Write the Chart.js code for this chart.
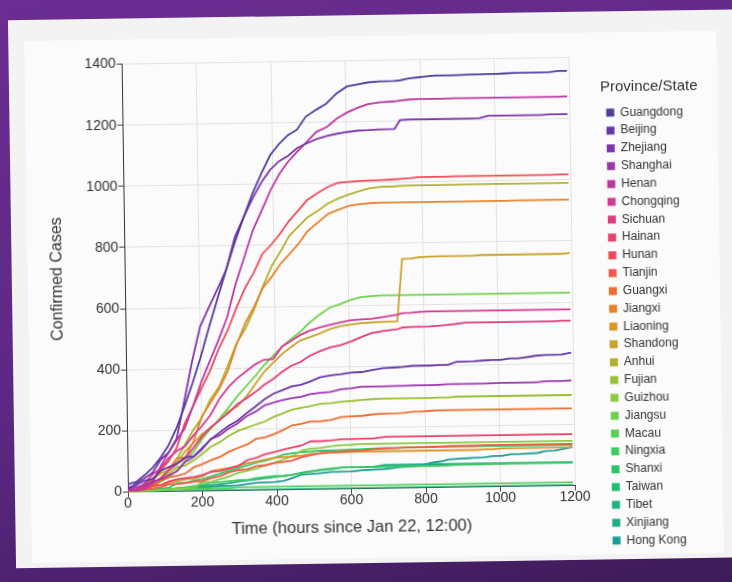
<!DOCTYPE html>
<html>
<head>
<meta charset="utf-8">
<script src="https://cdn.jsdelivr.net/npm/chart.js@4.4.1/dist/chart.umd.min.js"></script>
<style>
  html, body { margin: 0; padding: 0; width: 732px; height: 582px; overflow: hidden; }
  body { background: linear-gradient(165deg, #6b2d90 0%, #5c2784 55%, #3d1b58 100%); position: relative; }
  #slide { position: absolute; left: 0; top: 0; width: 732px; height: 582px;
           transform: rotate(-0.85deg); transform-origin: 366px 291px; }
  #card { position: absolute; left: 12px; top: 15px; width: 760px; height: 548px; background: #f3f3f4; }
  #panel { position: absolute; left: 28px; top: 36px; width: 692px; height: 522px; background: #fbfbfb; }
  #chart { position: absolute; left: 0; top: 0; }
</style>
</head>
<body>
<div id="slide">
  <div id="card"></div>
  <div id="panel"></div>
  <canvas id="chart" width="732" height="582"></canvas>
</div>
<script>
// Hours since Jan 22, 12:00 of each report
const hours = [0, 22, 44, 67, 89, 111, 133, 155, 178, 200,
  224, 249, 273, 297, 322, 346, 370, 395, 419, 443,
  468, 492, 520, 548, 576, 604, 632, 660, 690, 730,
  745, 769, 792, 816, 840, 863, 887, 911, 934, 958,
  982, 1005, 1029, 1053, 1076, 1100, 1124, 1147, 1171, 1195];

const provinces = ['Guangdong', 'Beijing', 'Zhejiang', 'Shanghai', 'Henan', 'Chongqing', 'Sichuan',
  'Hainan', 'Hunan', 'Tianjin', 'Guangxi', 'Jiangxi', 'Liaoning', 'Shandong', 'Anhui', 'Fujian',
  'Guizhou', 'Jiangsu', 'Macau', 'Ningxia', 'Shanxi', 'Taiwan', 'Tibet', 'Xinjiang', 'Hong Kong'];

const colors = ['#523c9c', '#6638a6', '#7f33ad', '#9c37ae', '#bb36a2', '#d33a92', '#e23c7e',
  '#eb426a', '#f04c58', '#f25b45', '#ef6d30', '#e8822a', '#dc9428', '#c8a42a', '#b0b22c', '#9bc032',
  '#8cca42', '#70d14e', '#55d05a', '#3ecc62', '#2ec56b', '#25bd74', '#20b47d', '#1eaa87', '#1e9c97'];

// Cumulative confirmed cases, one value per report in `hours`
const guangdong = [26,32,53,78,111,151,207,277,354,436,
  535,632,725,813,895,970,1034,1095,1131,1159,1177,1219,1241,1261,1294,1316,1322,1328,1331,1332,1333,1339,1342,1345,1347,1347,1347,1348,1349,
  1349,1350,1350,1351,1352,1352,1352,1352,1353,1356,1356];
const beijing = [14,22,36,41,68,80,91,111,114,139,
  168,191,212,228,253,274,297,315,326,337,342,352,366,372,375,380,381,387,393,395,396,399,399,399,400,400,410,410,411,
  413,414,414,418,418,422,426,428,428,429,435];
const zhejiang = [10,27,43,62,104,128,173,296,428,537,
  599,661,724,829,895,954,1006,1048,1075,1092,1117,1131,1145,1155,1162,1167,1171,1172,1174,1175,1203,1205,1205,1205,1205,1205,1205,1205,1205,
  1206,1213,1213,1213,1213,1213,1213,1213,1215,1215,1215];
const shanghai = [9,16,20,33,40,53,66,96,112,135,
  169,182,203,219,243,257,277,286,293,299,303,311,315,318,326,328,333,333,333,334,334,335,335,335,336,337,337,337,337,
  337,338,339,339,339,339,339,342,342,342,344];
const henan = [5,5,9,32,83,128,168,206,278,352,
  422,493,566,675,764,851,914,981,1033,1073,1105,1135,1169,1184,1212,1231,1246,1257,1262,1265,1267,1270,1271,1271,1271,1271,1272,1272,1272,
  1272,1272,1272,1272,1272,1272,1272,1272,1272,1272,1273];
const chongqing = [5,9,27,57,75,110,132,147,182,211,
  247,300,337,366,389,411,426,428,468,486,505,518,529,537,544,551,553,555,560,567,572,573,575,576,576,576,576,576,576,
  576,576,576,576,576,576,576,576,576,576,576];
const sichuan = [5,8,15,28,44,69,90,108,142,177,
  207,231,254,282,301,321,344,363,386,405,417,436,451,463,470,481,495,508,514,520,525,526,526,527,529,531,534,538,538,
  538,538,538,538,538,538,538,538,538,539,539];
const hainan = [4,5,8,19,22,33,40,43,46,52,
  62,64,72,80,99,106,117,124,131,138,144,157,157,159,162,162,163,163,168,168,168,168,168,168,168,168,168,168,168,
  168,168,168,168,168,168,168,168,168,168,168];
const hunan = [4,9,24,43,69,100,143,221,277,332,
  389,463,521,593,661,711,772,803,838,879,912,946,968,988,1001,1004,1006,1007,1008,1010,1011,1013,1016,1016,1016,1016,1017,1017,1017,
  1017,1017,1017,1017,1017,1017,1017,1017,1017,1018,1018];
const tianjin = [4,4,8,10,14,23,24,27,31,32,
  41,48,60,67,69,79,81,88,91,95,106,112,119,120,122,124,125,128,130,131,133,133,133,134,134,135,135,135,135,
  136,136,136,136,136,136,136,136,136,136,136];
const guangxi = [2,5,23,23,36,46,51,58,78,87,
  100,111,127,139,150,168,172,183,195,210,215,222,222,226,235,237,238,242,244,245,246,249,249,251,252,252,252,252,252,
  252,252,252,252,252,252,252,252,252,252,252];
const jiangxi = [2,7,18,18,36,72,109,109,162,240,
  286,333,391,476,548,600,661,698,740,771,804,844,872,900,913,925,930,933,934,934,934,934,934,934,934,934,934,934,934,
  934,934,934,934,935,935,935,935,935,935,935];
const liaoning = [2,3,4,17,21,27,34,39,41,48,
  64,70,74,81,89,94,99,105,107,108,111,116,117,119,119,121,121,121,121,121,121,121,121,121,121,121,121,121,121,
  122,122,125,125,125,125,125,125,125,125,125];
const shandong = [2,6,15,27,46,75,95,130,158,184,
  206,230,259,275,307,347,386,416,444,466,487,497,509,523,532,537,541,543,544,546,749,750,754,755,756,756,756,756,756,
  758,758,758,758,758,758,758,758,758,758,760];
const anhui = [1,9,15,39,60,70,106,152,200,237,
  297,340,408,480,530,591,665,733,779,830,860,889,910,934,950,962,973,982,986,987,988,989,989,989,989,989,989,990,990,
  990,990,990,990,990,990,990,990,990,990,990];
const fujian = [1,5,10,18,35,59,80,84,101,120,
  144,159,179,194,205,215,224,239,250,261,267,272,279,281,285,287,290,292,293,293,293,293,293,293,294,294,296,296,296,
  296,296,296,296,296,296,296,296,296,296,296];
const guizhou = [1,3,3,4,5,7,9,9,12,29,
  29,38,46,58,64,71,81,89,99,109,127,133,135,140,143,144,146,146,146,146,146,146,146,146,146,146,146,146,146,
  146,146,146,146,146,146,146,146,146,146,146];
const jiangsu = [1,5,9,18,33,47,70,99,129,168,
  202,236,271,308,341,373,408,439,468,492,515,543,570,593,604,617,626,629,631,631,631,631,631,631,631,631,631,631,631,
  631,631,631,631,631,631,631,631,631,631,631];
const macau = [1,2,2,2,5,6,7,7,7,7,
  7,8,8,10,10,10,10,10,10,10,10,10,10,10,10,10,10,10,10,10,10,10,10,10,10,10,10,10,10,
  10,10,10,10,10,10,10,10,10,10,10];
const ningxia = [1,1,2,3,4,7,11,12,17,21,
  26,28,31,34,34,40,43,45,45,49,53,58,64,67,70,70,70,70,71,71,71,71,71,71,71,72,73,73,73,
  73,74,74,75,75,75,75,75,75,75,75];
const shanxi = [1,1,1,6,9,13,27,27,35,39,
  47,56,66,74,81,90,96,104,115,119,122,124,126,126,127,128,129,130,131,131,132,132,132,132,133,133,133,133,133,
  133,133,133,133,133,133,133,133,133,133,133];
const taiwan = [1,1,3,3,4,5,8,8,9,10, 10];
const tibet = [0,0,0,0,0,0,0,1,1,1,
  1,1,1,1,1,1,1,1,1,1,1,1,1,1,1,1,1,1,1,1,1,1,1,1,1,1,1,1,1,
  1,1,1,1,1,1,1,1,1,1,1];
const xinjiang = [0,2,2,3,4,5,10,13,14,17,
  18,21,24,29,32,36,39,42,45,49,55,59,63,65,70,71,71,71,76,76,76,76,76,76,76,76,76,76,76,
  76,76,76,76,76,76,76,76,76,76,76];
const hongKong = [0,2,2,5,8,8,8,10,10,12,
  13,15,15,17,21,24,25,26,29,38,49,50,53,56,56,57,60,62,63,68,69,70,74,81,85,91,93,94,95,
  96,100,100,105,105,107,108,114,115,120,126];

const seriesValues = [guangdong, beijing, zhejiang, shanghai, henan, chongqing, sichuan, hainan, hunan,
  tianjin, guangxi, jiangxi, liaoning, shandong, anhui, fujian, guizhou, jiangsu, macau, ningxia,
  shanxi, taiwan, tibet, xinjiang, hongKong];

const xTicks = [0, 200, 400, 600, 800, 1000, 1200];
const yTicks = [0, 200, 400, 600, 800, 1000, 1200, 1400];

const FONT = "'Liberation Sans', Arial, Helvetica, sans-serif";
const TEXT = '#333333';
const PLOT_RIGHT = 572;
const LEGEND_WIDTH = 123;

const datasets = provinces.map((name, i) => ({
  label: name,
  data: seriesValues[i].map((v, k) => ({ x: hours[k], y: v })),
  borderColor: colors[i],
  backgroundColor: colors[i],
  borderWidth: 1.8,
  pointRadius: 0,
  pointHoverRadius: 0,
  tension: 0,
  fill: false
}));

const plainNumber = v => String(v);

const chart = new Chart(document.getElementById('chart'), {
  type: 'line',
  data: { datasets },
  options: {
    responsive: false,
    animation: false,
    devicePixelRatio: 1,
    layout: { padding: { left: 40, top: 60.5, bottom: 10, right: 6 } },
    plugins: {
      tooltip: { enabled: false },
      legend: {
        position: 'right',
        align: 'start',
        title: {
          display: true,
          text: 'Province/State',
          position: 'start',
          color: TEXT,
          font: { family: FONT, size: 15 },
          padding: { top: 22.5, bottom: 3.5 }
        },
        labels: {
          boxWidth: 8,
          boxHeight: 8,
          padding: 5.83,
          color: TEXT,
          font: { family: FONT, size: 12 },
          generateLabels(c) {
            const items = Chart.defaults.plugins.legend.labels.generateLabels(c);
            items.forEach(it => { it.lineWidth = 0; });
            return items;
          }
        }
      }
    },
    scales: {
      x: {
        type: 'linear',
        min: 0, max: 1200,
        afterBuildTicks: s => { s.ticks = xTicks.map(v => ({ value: v })); },
        afterFit: s => { s.height = 83.5; },
        ticks: { color: TEXT, padding: 0, callback: plainNumber, font: { family: FONT, size: 14, lineHeight: 1 } },
        grid: { color: '#e2e2e2', tickLength: 5, tickColor: '#444', lineWidth: 1 },
        border: { color: '#333', width: 1 },
        title: {
          display: true,
          text: 'Time (hours since Jan 22, 12:00)',
          color: TEXT,
          font: { family: FONT, size: 16.5 },
          padding: { top: 0, bottom: 34.8 }
        }
      },
      y: {
        type: 'linear',
        min: 0, max: 1400,
        afterBuildTicks: s => { s.ticks = yTicks.map(v => ({ value: v })); },
        afterFit: s => { s.width = 85; },
        ticks: { color: TEXT, padding: 1, callback: plainNumber, font: { family: FONT, size: 14 } },
        grid: { color: '#e2e2e2', tickLength: 5, tickColor: '#444', lineWidth: 1 },
        border: { color: '#333', width: 1 },
        title: {
          display: true,
          text: 'Confirmed Cases',
          color: TEXT,
          font: { family: FONT, size: 16 },
          padding: { top: 8.4, bottom: 0 }
        }
      },
      gap: {
        type: 'linear',
        position: 'right',
        display: true,
        afterFit: s => { s.width = 31; },
        ticks: { display: false },
        grid: { display: false },
        border: { display: false }
      }
    }
  }
});

// give the legend a fixed width so its title is not clipped
const baseFit = chart.legend.fit;
chart.legend.fit = function () {
  baseFit.call(this);
  this.width = LEGEND_WIDTH;
};
chart.update('none');

// keep the plot's right edge where it belongs
const shift = chart.chartArea.right - PLOT_RIGHT;
if (Math.abs(shift) > 0.1) {
  chart.options.layout.padding.right += shift;
  chart.update('none');
}
</script>
</body>
</html>
